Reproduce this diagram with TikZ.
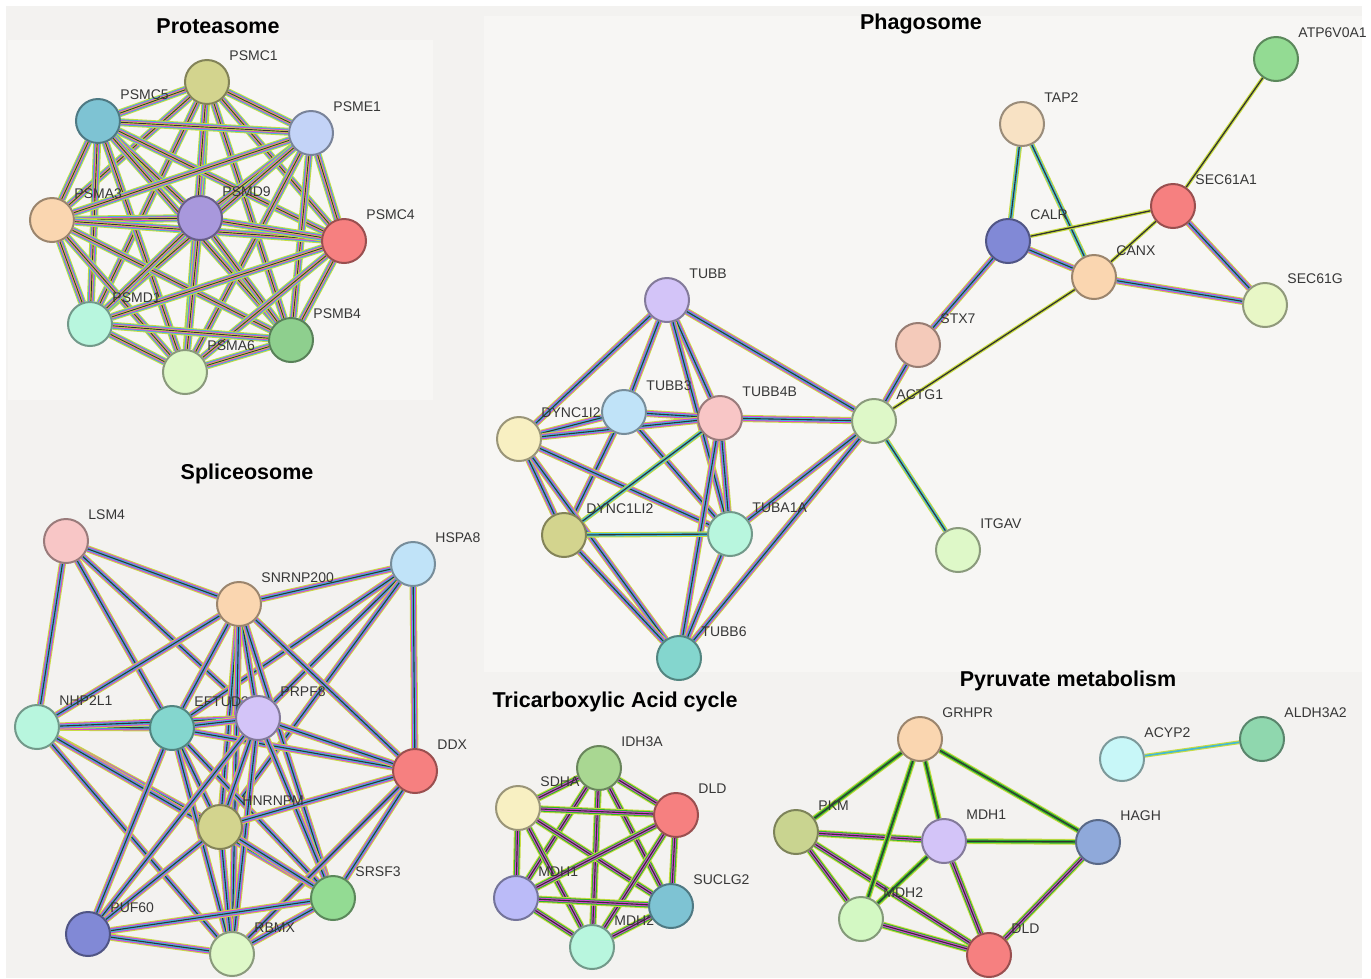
\documentclass[tikz,border=0pt]{standalone}
\usepackage{fontspec}
\setmainfont{Liberation Sans}
\usepackage{xcolor}
\usetikzlibrary{backgrounds}
\pgfdeclarelayer{edges}
\pgfsetlayers{background,edges,main}
% node colours
\definecolor{cOlive}{RGB}{211,212,142}
\definecolor{cTeal}{RGB}{126,195,211}
\definecolor{cSky}{RGB}{195,211,247}
\definecolor{cSky2}{RGB}{192,227,248}
\definecolor{cPeach}{RGB}{250,214,176}
\definecolor{cPeach2}{RGB}{248,226,196}
\definecolor{cPurple}{RGB}{168,152,220}
\definecolor{cLav}{RGB}{211,196,248}
\definecolor{cRed}{RGB}{246,128,128}
\definecolor{cMint}{RGB}{184,246,222}
\definecolor{cGreen}{RGB}{142,207,142}
\definecolor{cGreen2}{RGB}{147,219,147}
\definecolor{cLime}{RGB}{222,248,200}
\definecolor{cPale}{RGB}{232,247,198}
\definecolor{cPink}{RGB}{248,198,198}
\definecolor{cCream}{RGB}{248,240,194}
\definecolor{cSea}{RGB}{132,214,206}
\definecolor{cBlue}{RGB}{129,137,214}
\definecolor{cSalmon}{RGB}{244,202,186}
\definecolor{cLeaf}{RGB}{169,215,146}
\definecolor{cPeri}{RGB}{187,187,248}
\definecolor{cMoss}{RGB}{201,212,144}
\definecolor{cSteel}{RGB}{143,169,218}
\definecolor{cSpring}{RGB}{211,248,195}
\definecolor{cIce}{RGB}{200,247,248}
\definecolor{cJade}{RGB}{143,215,174}
% evidence line colours
\definecolor{evlime}{RGB}{200,220,64}
\definecolor{evmag}{RGB}{214,70,214}
\definecolor{evcyan}{RGB}{64,184,216}
\definecolor{evgreen}{RGB}{48,176,48}
\definecolor{evblack}{RGB}{50,50,50}
\definecolor{labgray}{RGB}{55,55,55}
\definecolor{bggray}{RGB}{243,242,240}
\definecolor{panelgray}{RGB}{247,246,244}

\begin{document}
\begin{tikzpicture}[x=1pt, y=-1pt,
    gene/.style={circle, minimum size=44pt, inner sep=0pt, line width=2pt},
    lab/.style={font=\fontsize{14}{15}\selectfont, text=labgray, anchor=base west, inner sep=0pt, xshift=6pt, yshift=5pt},
    title/.style={font=\fontsize{21.5}{24}\selectfont\bfseries, anchor=base, inner sep=0pt},
    evP/.style={draw=evblack, line width=0.9pt,
        preaction={draw=evlime, line width=8pt},
        preaction={draw=evcyan, line width=6pt},
        preaction={draw=evmag, line width=4.2pt},
        preaction={draw=evlime, line width=2.4pt}},
    ev/.style={draw=evblack, line width=1.1pt,
        preaction={draw=evlime, line width=7.2pt},
        preaction={draw=evmag, line width=5.2pt},
        preaction={draw=evcyan, line width=3.1pt}},
    evg/.style={draw=evblack, line width=1.1pt,
        preaction={draw=evlime, line width=7.2pt},
        preaction={draw=evgreen, line width=5.2pt},
        preaction={draw=evmag, line width=3.1pt}},
    evgl/.style={draw=evblack, line width=1.2pt,
        preaction={draw=evlime, line width=5.8pt},
        preaction={draw=evgreen, line width=3.6pt}},
    evcb/.style={draw=evblack, line width=1.1pt,
        preaction={draw=evlime, line width=5.4pt},
        preaction={draw=evcyan, line width=3.2pt}},
    ev2/.style={draw=evblack, line width=1.3pt,
        preaction={draw=evlime, line width=3.6pt}},
    evc/.style={draw=evcyan, line width=1.6pt,
        preaction={draw=evlime, line width=3.8pt}}]

    \useasboundingbox (0,0) rectangle (1371,978);
    \begin{pgfonlayer}{background}
        \fill[white] (0,0) rectangle (1371,978);
        \fill[bggray] (6,6) rectangle (1362,978);
        \fill[panelgray] (8,40) rectangle (433,400);
        \fill[panelgray] (484,16) rectangle (1362,672);
    \end{pgfonlayer}

    % Proteasome
    \node[title] (tProt) at (218,33) {Proteasome};
    \foreach \id/\x/\y/\col/\name in {p1/207/82/cOlive/PSMC1, p2/98/121/cTeal/PSMC5,
        p3/311/133/cSky/PSME1, p4/52/220/cPeach/PSMA3, p5/200/218/cPurple/PSMD9,
        p6/344/241/cRed/PSMC4, p7/90/324/cMint/PSMD1, p8/291/340/cGreen/PSMB4,
        p9/185/372/cLime/PSMA6} {
        \node[gene, fill=\col, draw=\col!62!black, label={[lab]north east:\name}] (\id) at (\x,\y) {};
    }

    % Phagosome
    \node[title] (tPhag) at (921,29) {Phagosome};
    \foreach \id/\x/\y/\col/\name in {tubb/667/300/cLav/TUBB, tubbc/624/412/cSky2/TUBB3,
        tubbd/720/418/cPink/TUBB4B, dynca/519/439/cCream/DYNC1I2, dyncb/564/535/cOlive/DYNC1LI2,
        tuba/730/534/cMint/TUBA1A, tubbf/679/658/cSea/TUBB6, actg/874/421/cLime/ACTG1,
        stx/918/345/cSalmon/STX7, tap/1022/124/cPeach2/TAP2, calr/1008/241/cBlue/CALR,
        canx/1094/277/cPeach/CANX, seca/1173/206/cRed/SEC61A1, secg/1265/305/cPale/SEC61G,
        atp/1276/59/cGreen2/ATP6V0A1, itgav/958/550/cLime/ITGAV} {
        \node[gene, fill=\col, draw=\col!62!black, label={[lab]north east:\name}] (\id) at (\x,\y) {};
    }

    % Spliceosome
    \node[title] (tSpli) at (247,479) {Spliceosome};
    \foreach \id/\x/\y/\col/\name in {lsm/66/541/cPink/LSM4, hspa/413/564/cSky2/HSPA8,
        snrnp/239/604/cPeach/SNRNP200, nhp/37/727/cMint/NHP2L1, eftud/172/728/cSea/EFTUD2,
        prpf/258/718/cLav/PRPF8, ddx/415/771/cRed/DDX, hnrnpm/220/827/cOlive/HNRNPM,
        srsf/333/898/cGreen2/SRSF3, puf/88/934/cBlue/PUF60, rbmx/232/954/cLime/RBMX} {
        \node[gene, fill=\col, draw=\col!62!black, label={[lab]north east:\name}] (\id) at (\x,\y) {};
    }

    % Tricarboxylic acid cycle
    \node[title] (tTca) at (615,707) {Tricarboxylic Acid cycle};
    \foreach \id/\x/\y/\col/\name in {t2/518/808/cCream/SDHA, t1/599/768/cLeaf/IDH3A,
        t3/676/815/cRed/DLD, t4/516/898/cPeri/MDH1, t6/592/947/cMint/MDH2,
        t5/671/906/cTeal/SUCLG2} {
        \node[gene, fill=\col, draw=\col!62!black, label={[lab]north east:\name}] (\id) at (\x,\y) {};
    }

    % Pyruvate metabolism
    \node[title] (tPyr) at (1068,686) {Pyruvate metabolism};
    \foreach \id/\x/\y/\col/\name in {grhpr/920/739/cPeach/GRHPR, pkm/796/832/cMoss/PKM,
        mdha/944/841/cLav/MDH1, hagh/1098/842/cSteel/HAGH, mdhb/861/919/cSpring/MDH2,
        dld/989/955/cRed/DLD, acyp/1122/759/cIce/ACYP2, aldh/1262/739/cJade/ALDH3A2} {
        \node[gene, fill=\col, draw=\col!62!black, label={[lab]north east:\name}] (\id) at (\x,\y) {};
    }

    \begin{pgfonlayer}{edges}
        % Proteasome: every pair
        \foreach \i in {1,...,9} {
            \foreach \j in {\i,...,9} {
                \ifnum\i<\j \draw[evP] (p\i) -- (p\j); \fi
            }
        }
        % Phagosome
        \foreach \a/\b in {tubb/dynca, tubb/tubbc, tubb/tubbd, tubb/tuba, tubb/actg,
            tubbc/dynca, tubbc/tubbd, tubbc/dyncb, tubbc/tuba, dynca/tubbd, dynca/dyncb,
            dynca/tuba, dynca/tubbf, tubbd/tuba, tubbd/tubbf, tubbd/actg,
            dyncb/tubbf, tuba/tubbf, tuba/actg, tubbf/actg,
            actg/stx, stx/calr, calr/canx, canx/secg, seca/secg}
            \draw[ev] (\a) -- (\b);
        \foreach \a/\b in {actg/itgav, tap/calr, tap/canx, tubbd/dyncb, dyncb/tuba}
            \draw[evcb] (\a) -- (\b);
        \foreach \a/\b in {actg/canx, seca/atp, calr/seca, canx/seca}
            \draw[ev2] (\a) -- (\b);
        % Spliceosome
        \foreach \a/\b in {lsm/snrnp, lsm/nhp, lsm/eftud, lsm/prpf,
            hspa/snrnp, hspa/ddx, hspa/eftud, hspa/prpf, hspa/hnrnpm,
            snrnp/nhp, snrnp/eftud, snrnp/prpf, snrnp/hnrnpm, snrnp/ddx, snrnp/srsf, snrnp/rbmx,
            nhp/eftud, nhp/prpf, nhp/hnrnpm, nhp/srsf, nhp/rbmx,
            eftud/prpf, eftud/ddx, eftud/hnrnpm, eftud/srsf, eftud/rbmx, eftud/puf,
            prpf/ddx, prpf/hnrnpm, prpf/srsf, prpf/rbmx, prpf/puf,
            ddx/hnrnpm, ddx/srsf, ddx/rbmx, hnrnpm/srsf, hnrnpm/rbmx, hnrnpm/puf,
            srsf/rbmx, srsf/puf, puf/rbmx}
            \draw[ev] (\a) -- (\b);
        % Tricarboxylic acid cycle: every pair
        \foreach \i in {1,...,6} {
            \foreach \j in {\i,...,6} {
                \ifnum\i<\j \draw[evg] (t\i) -- (t\j); \fi
            }
        }
        % Pyruvate metabolism
        \foreach \a/\b in {pkm/mdha, pkm/mdhb, mdha/dld, hagh/dld, mdhb/dld, pkm/dld}
            \draw[evg] (\a) -- (\b);
        \foreach \a/\b in {grhpr/pkm, grhpr/mdhb, grhpr/mdha, grhpr/hagh, mdha/hagh, mdha/mdhb}
            \draw[evgl] (\a) -- (\b);
        \draw[evc] (acyp) -- (aldh);
    \end{pgfonlayer}
\end{tikzpicture}
\end{document}
